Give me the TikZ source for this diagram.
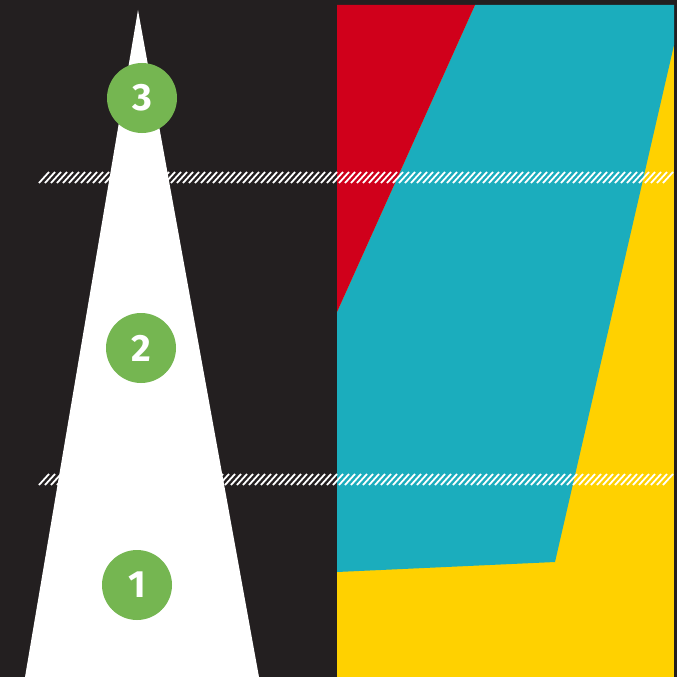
\documentclass[tikz,border=0pt]{standalone}
\usepackage{fontspec}
\setmainfont{Fira Sans}
\usepackage{tikz}
\usetikzlibrary{positioning}
\definecolor{PanelDark}{RGB}{35,31,32}
\definecolor{PanelRed}{RGB}{208,0,27}
\definecolor{PanelTeal}{RGB}{27,173,189}
\definecolor{PanelYellow}{RGB}{255,209,0}
\definecolor{StageGreen}{RGB}{117,182,81}

\begin{document}
\begin{tikzpicture}[x=1pt,y=-1pt, stage/.style={circle,fill=StageGreen,minimum size=70pt,inner sep=0pt,text=white,font=\fontsize{38}{38}\selectfont\bfseries}, hatch/.style={draw=white,line width=1.8pt}]
\useasboundingbox (0,0) rectangle (677,677);
\fill[PanelDark] (0,0) rectangle (677,677);
% right panel
\fill[PanelYellow] (337,5) rectangle (674,677);
\fill[PanelTeal] (475,5) -- (674,5) -- (674,45) -- (555,562) -- (337,572) -- (337,312) -- cycle;
\fill[PanelRed] (337,5) -- (475,5) -- (337,312) -- cycle;
% hatched bands
\foreach \y in {183,485} \foreach \x in {39,45,...,663} \draw[hatch] (\x,\y) -- (\x+10,\y-11);
% pyramid
\fill[white] (138,10) -- (259,677) -- (25,677) -- cycle;
\node[stage] (s3) at (142,98) {3};
\node[stage] (s2) at (141,348) {2};
\node[stage] (s1) at (137,585) {1};
\end{tikzpicture}
\end{document}
